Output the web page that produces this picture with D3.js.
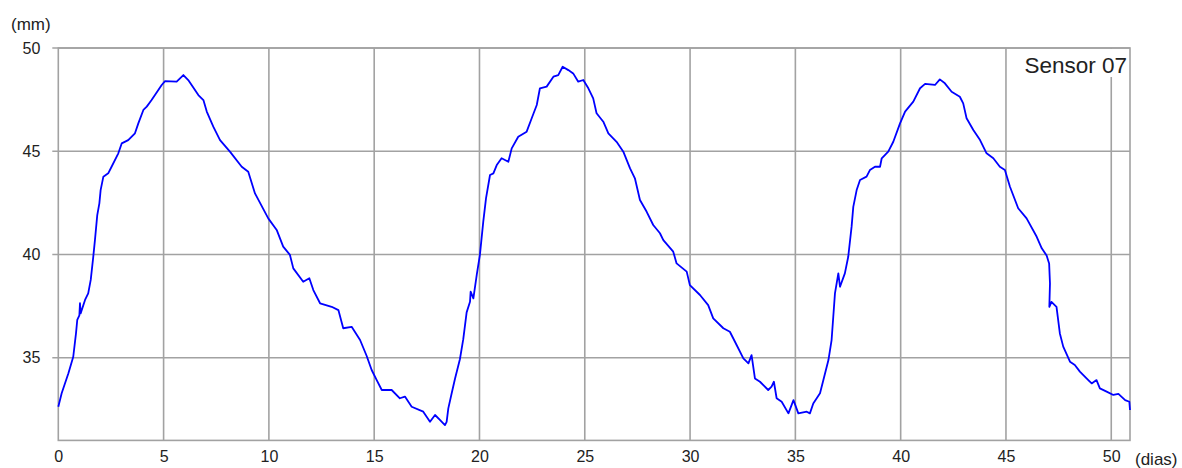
<!DOCTYPE html>
<html>
<head>
<meta charset="utf-8">
<script src="https://cdn.jsdelivr.net/npm/d3@7"></script>
<style>
  html, body { margin: 0; padding: 0; background: #ffffff; }
  svg { display: block; font-family: "Liberation Sans", Arial, sans-serif; }
</style>
</head>
<body>
<svg id="chart" width="1182" height="468"></svg>
<script>
// Displacement readings of sensor 07 over time
const days = [
  0, 0.16, 0.48, 0.71, 0.84, 0.90, 1.00, 1.03, 1.06, 1.27, 1.42, 1.54, 1.66, 1.74, 1.85, 1.95,
  2.01, 2.14, 2.37, 2.53, 2.85, 3.01, 3.32, 3.64, 3.80, 4.04, 4.20, 4.43, 4.59, 4.91, 5.07, 5.62,
  5.94, 6.17, 6.65, 6.89, 7.05, 7.36, 7.68, 8.15, 8.71, 9.02, 9.34, 9.97, 10.37, 10.68, 11.00, 11.16,
  11.63, 11.92, 12.11, 12.43, 12.98, 13.30, 13.53, 13.93, 14.33, 14.64, 14.88, 15.12, 15.36, 15.83,
  16.22, 16.46, 16.78, 17.33, 17.65, 17.89, 18.12, 18.36, 18.44, 18.52, 18.68, 18.84, 19.07, 19.23,
  19.39, 19.55, 19.58, 19.71, 19.87, 20.02, 20.18, 20.31, 20.50, 20.66, 20.82, 21.05, 21.37, 21.53,
  21.84, 22.24, 22.48, 22.72, 22.87, 23.19, 23.51, 23.74, 23.95, 24.22, 24.45, 24.69, 24.93, 25.17,
  25.40, 25.56, 25.88, 26.12, 26.51, 26.83, 27.15, 27.38, 27.62, 27.94, 28.25, 28.57, 28.73, 29.20,
  29.36, 29.84, 29.99, 30.47, 30.86, 31.10, 31.58, 31.89, 32.21, 32.53, 32.77, 32.92, 33.08, 33.32,
  33.71, 33.87, 33.98, 34.11, 34.35, 34.67, 34.91, 35.14, 35.54, 35.69, 35.85, 36.17, 36.33, 36.57,
  36.72, 36.80, 36.88, 37.04, 37.12, 37.35, 37.51, 37.67, 37.75, 37.91, 38.07, 38.38, 38.54, 38.78,
  39.02, 39.10, 39.41, 39.65, 39.97, 40.21, 40.60, 40.92, 41.16, 41.63, 41.86, 42.10, 42.42, 42.81,
  42.97, 43.13, 43.45, 43.77, 44.08, 44.40, 44.71, 44.95, 45.19, 45.58, 45.98, 46.46, 46.70, 46.93,
  47.05, 47.09, 47.06, 47.16, 47.40, 47.56, 47.72, 48.04, 48.27, 48.51, 48.91, 49.07, 49.30, 49.46,
  49.78, 50.10, 50.34, 50.66, 50.86, 50.89
];
const mm = [
  32.63, 33.28, 34.25, 35.05, 36.18, 36.83, 37.05, 37.64, 37.15, 37.80, 38.12, 38.77, 39.89, 40.70, 41.91, 42.48,
  43.12, 43.77, 43.93, 44.25, 44.90, 45.38, 45.54, 45.87, 46.35, 47.00, 47.16, 47.48, 47.72, 48.21, 48.40, 48.37,
  48.69, 48.45, 47.72, 47.48, 46.92, 46.19, 45.54, 44.98, 44.25, 44.01, 42.96, 41.75, 41.19, 40.38, 39.98, 39.33,
  38.68, 38.85, 38.28, 37.64, 37.47, 37.31, 36.43, 36.50, 35.86, 35.10, 34.41, 33.92, 33.44, 33.44,
  33.04, 33.12, 32.63, 32.39, 31.90, 32.23, 31.99, 31.74, 31.90, 32.55, 33.28, 34.00, 34.93, 35.90,
  37.20, 37.71, 38.20, 37.88, 39.01, 39.98, 41.59, 42.72, 43.85, 43.93, 44.33, 44.66, 44.49, 45.14,
  45.70, 45.95, 46.60, 47.24, 48.05, 48.13, 48.61, 48.69, 49.09, 48.93, 48.77, 48.37, 48.45, 48.05,
  47.56, 46.84, 46.43, 45.87, 45.46, 44.98, 44.17, 43.69, 42.64, 42.07, 41.43, 41.03, 40.70, 40.14,
  39.57, 39.17, 38.52, 38.04, 37.55, 36.91, 36.43, 36.26, 35.62, 34.97, 34.73, 35.13, 34.00, 33.84,
  33.44, 33.60, 33.84, 33.04, 32.87, 32.31, 32.95, 32.31, 32.39, 32.31, 32.79, 33.28, 33.92, 34.89,
  35.86, 36.99, 38.12, 39.09, 38.44, 39.09, 39.89, 41.35, 42.31, 43.12, 43.61, 43.77, 44.09, 44.25,
  44.25, 44.66, 44.98, 45.46, 46.35, 46.92, 47.40, 48.05, 48.26, 48.21, 48.48, 48.29, 47.88, 47.64,
  47.32, 46.60, 46.03, 45.54, 44.90, 44.66, 44.25, 44.09, 43.28, 42.24, 41.75, 40.86, 40.30, 39.95,
  39.57, 38.60, 37.47, 37.71, 37.47, 36.18, 35.54, 34.81, 34.65, 34.33, 33.92, 33.76, 33.92, 33.52,
  33.36, 33.20, 33.25, 32.95, 32.87, 32.47
];
const xTicks = [0, 5, 10, 15, 20, 25, 30, 35, 40, 45, 50];
const yTicks = [35, 40, 45, 50];
const xDomain = [0, 50.89];
const yDomain = [31, 50];
const yUnit = "(mm)";
const xUnit = "(dias)";
const sensorName = "Sensor 07";

const svg = d3.select("#chart");
const plotLeft = 58.3, plotRight = 1130, plotTop = 48, plotBottom = 440.4;

const x = d3.scaleLinear().domain(xDomain).range([plotLeft, plotRight]);
const y = d3.scaleLinear().domain(yDomain).range([plotBottom, plotTop]);

const gridColor = "#a2a2a2";
const textFont = "Liberation Sans, Arial, sans-serif";

// horizontal grid lines with short ticks on the left
svg.append("g")
  .selectAll("line")
  .data(yTicks)
  .join("line")
  .attr("x1", plotLeft - 6).attr("x2", plotRight)
  .attr("y1", d => y(d)).attr("y2", d => y(d))
  .attr("stroke", gridColor).attr("stroke-width", 1.6);

// vertical grid lines
svg.append("g")
  .selectAll("line")
  .data(xTicks.filter(d => d > 0))
  .join("line")
  .attr("x1", d => x(d)).attr("x2", d => x(d))
  .attr("y1", plotTop).attr("y2", plotBottom)
  .attr("stroke", gridColor).attr("stroke-width", 1.6);

// frame
svg.append("rect")
  .attr("x", plotLeft).attr("y", plotTop)
  .attr("width", plotRight - plotLeft).attr("height", plotBottom - plotTop)
  .attr("fill", "none").attr("stroke", gridColor).attr("stroke-width", 1.6);

// axes used for the labels only
const yAxis = d3.axisLeft(y).tickValues(yTicks).tickSize(0).tickPadding(18);
svg.append("g")
  .attr("transform", `translate(${plotLeft},0)`)
  .call(yAxis)
  .call(g => g.select(".domain").remove())
  .call(g => g.selectAll("text")
    .attr("font-size", 16).attr("fill", "#222").attr("font-family", textFont));

const xAxis = d3.axisBottom(x).tickValues(xTicks).tickSize(0).tickPadding(10);
svg.append("g")
  .attr("transform", `translate(0,${plotBottom})`)
  .call(xAxis)
  .call(g => g.select(".domain").remove())
  .call(g => g.selectAll("text")
    .attr("font-size", 16).attr("fill", "#222").attr("font-family", textFont));

svg.append("text")
  .attr("x", 11).attr("y", 30)
  .attr("font-size", 17).attr("fill", "#222").attr("font-family", textFont)
  .text(yUnit);

svg.append("text")
  .attr("x", 1135).attr("y", 465)
  .attr("font-size", 17).attr("fill", "#222").attr("font-family", textFont)
  .text(xUnit);

// data line
const line = d3.line()
  .x((d, i) => x(days[i]))
  .y((d, i) => y(mm[i]));

svg.append("path")
  .datum(mm)
  .attr("d", line)
  .attr("fill", "none")
  .attr("stroke", "#0000ff")
  .attr("stroke-width", 1.8)
  .attr("stroke-linejoin", "round");

// sensor label on a white box
const label = svg.append("g");
label.append("rect")
  .attr("x", 1020).attr("y", plotTop + 1)
  .attr("width", plotRight - 1021).attr("height", 28)
  .attr("fill", "#ffffff");
label.append("text")
  .attr("x", 1127).attr("y", 73)
  .attr("text-anchor", "end")
  .attr("font-size", 22.5).attr("fill", "#222").attr("font-family", textFont)
  .text(sensorName);
</script>
</body>
</html>
